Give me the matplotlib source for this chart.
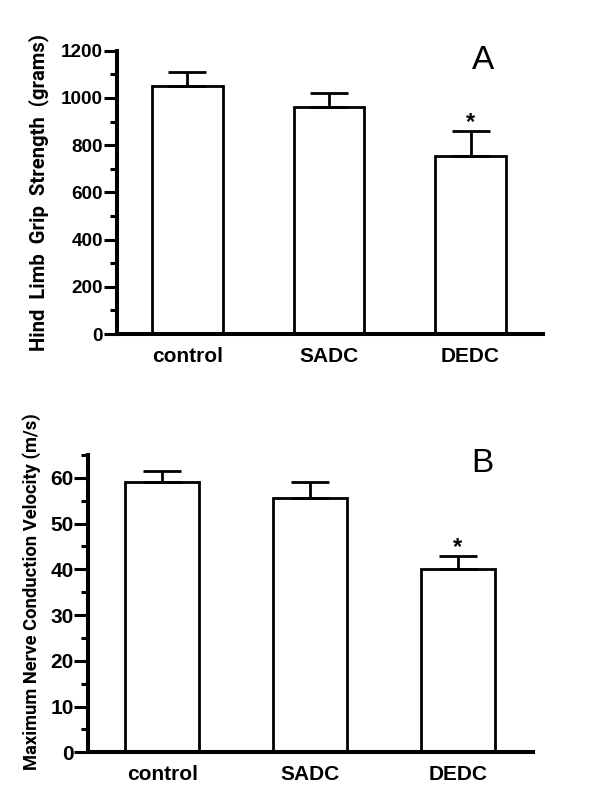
import matplotlib
matplotlib.use("Agg")
import matplotlib.pyplot as plt
from matplotlib import font_manager
from matplotlib.ticker import MultipleLocator

categories = ["control", "SADC", "DEDC"]
grip_means = [1052, 960, 755]
grip_sem = [57, 60, 104]
ncv_means = [59.0, 55.7, 40.1]
ncv_sem = [2.6, 3.3, 2.8]
grip_sig = [False, False, True]
ncv_sig = [False, False, True]

names = {f.name for f in font_manager.fontManager.ttflist}
def pick(cands):
    for c in cands:
        if c in names:
            return c
    return "DejaVu Sans"
wide = pick(["Liberation Sans", "Arimo", "DejaVu Sans"])
narrow = pick(["Roboto", "Liberation Sans"])

W, H = 600, 811
fig = plt.figure(figsize=(W / 100, H / 100), dpi=100)

def px_axes(l, t, r, b):
    return fig.add_axes([l / W, 1 - b / H, (r - l) / W, (b - t) / H])

def style(ax, ylim, major, minor, ticksize, majlen, minlen):
    for s in ("top", "right"):
        ax.spines[s].set_visible(False)
    for s in ("left", "bottom"):
        ax.spines[s].set_linewidth(2.9)
    ax.set_ylim(*ylim)
    ax.set_xlim(-0.5, 2.51)
    ax.yaxis.set_major_locator(MultipleLocator(major))
    ax.yaxis.set_minor_locator(MultipleLocator(minor))
    ax.tick_params(axis="y", which="major", length=majlen, width=2.2, pad=0.5)
    ax.tick_params(axis="y", which="minor", length=minlen, width=2.2)
    ax.tick_params(axis="x", length=0, pad=9)
    ax.set_xticks(range(len(categories)))
    ax.set_xticklabels(categories, fontfamily=wide, fontweight="bold", fontsize=15)
    for lab in ax.get_yticklabels():
        lab.set_fontfamily(wide)
        lab.set_fontweight("bold")
        lab.set_fontsize(ticksize)

def draw(ax, means, sem, sig, star_off, letter, lx, ly):
    x = list(range(len(categories)))
    ax.bar(x, means, width=0.5, color="white", edgecolor="black", linewidth=2.0, zorder=2)
    ax.errorbar(x, means, yerr=[[0] * len(sem), sem], fmt="none", ecolor="black",
                elinewidth=2.0, capsize=13.5, capthick=2.0, zorder=3)
    for xi, m, s, g in zip(x, means, sem, sig):
        if g:
            ax.text(xi, m + s + star_off, "*", ha="center", va="bottom",
                    fontsize=17, fontfamily=wide, fontweight="bold")
    fig.text(lx / W, 1 - ly / H, letter, ha="center", va="center",
             fontsize=24, fontfamily=wide)

axA = px_axes(116.7, 50.7, 542.7, 334)
draw(axA, grip_means, grip_sem, grip_sig, -12, "A", 483, 60.5)
style(axA, (0, 1200), 200, 100, 13.6, 9.5, 5)
labA = fig.text(39 / W, 1 - 192.5 / H, "Hind  Limb  Grip  Strength  (grams)", rotation=90,
                ha="center", va="center", fontsize=15, fontfamily=narrow, fontweight="bold")

axB = px_axes(88.3, 455, 533.3, 752.3)
draw(axB, ncv_means, ncv_sem, ncv_sig, -0.6, "B", 482, 463.3)
style(axB, (0, 65), 10, 5, 15, 10, 5)
labB = fig.text(32 / W, 1 - 591.5 / H, "Maximum Nerve Conduction Velocity (m/s)", rotation=90,
                ha="center", va="center", fontsize=13.5, fontfamily=narrow, fontweight="bold")

# scale the rotated labels so their length matches the reference
fig.canvas.draw()
r = fig.canvas.get_renderer()
for t, target in ((labA, 319), (labB, 357)):
    h = t.get_window_extent(r).height
    t.set_fontsize(t.get_fontsize() * target / h)

fig.savefig("out.png", dpi=100, facecolor="white")
